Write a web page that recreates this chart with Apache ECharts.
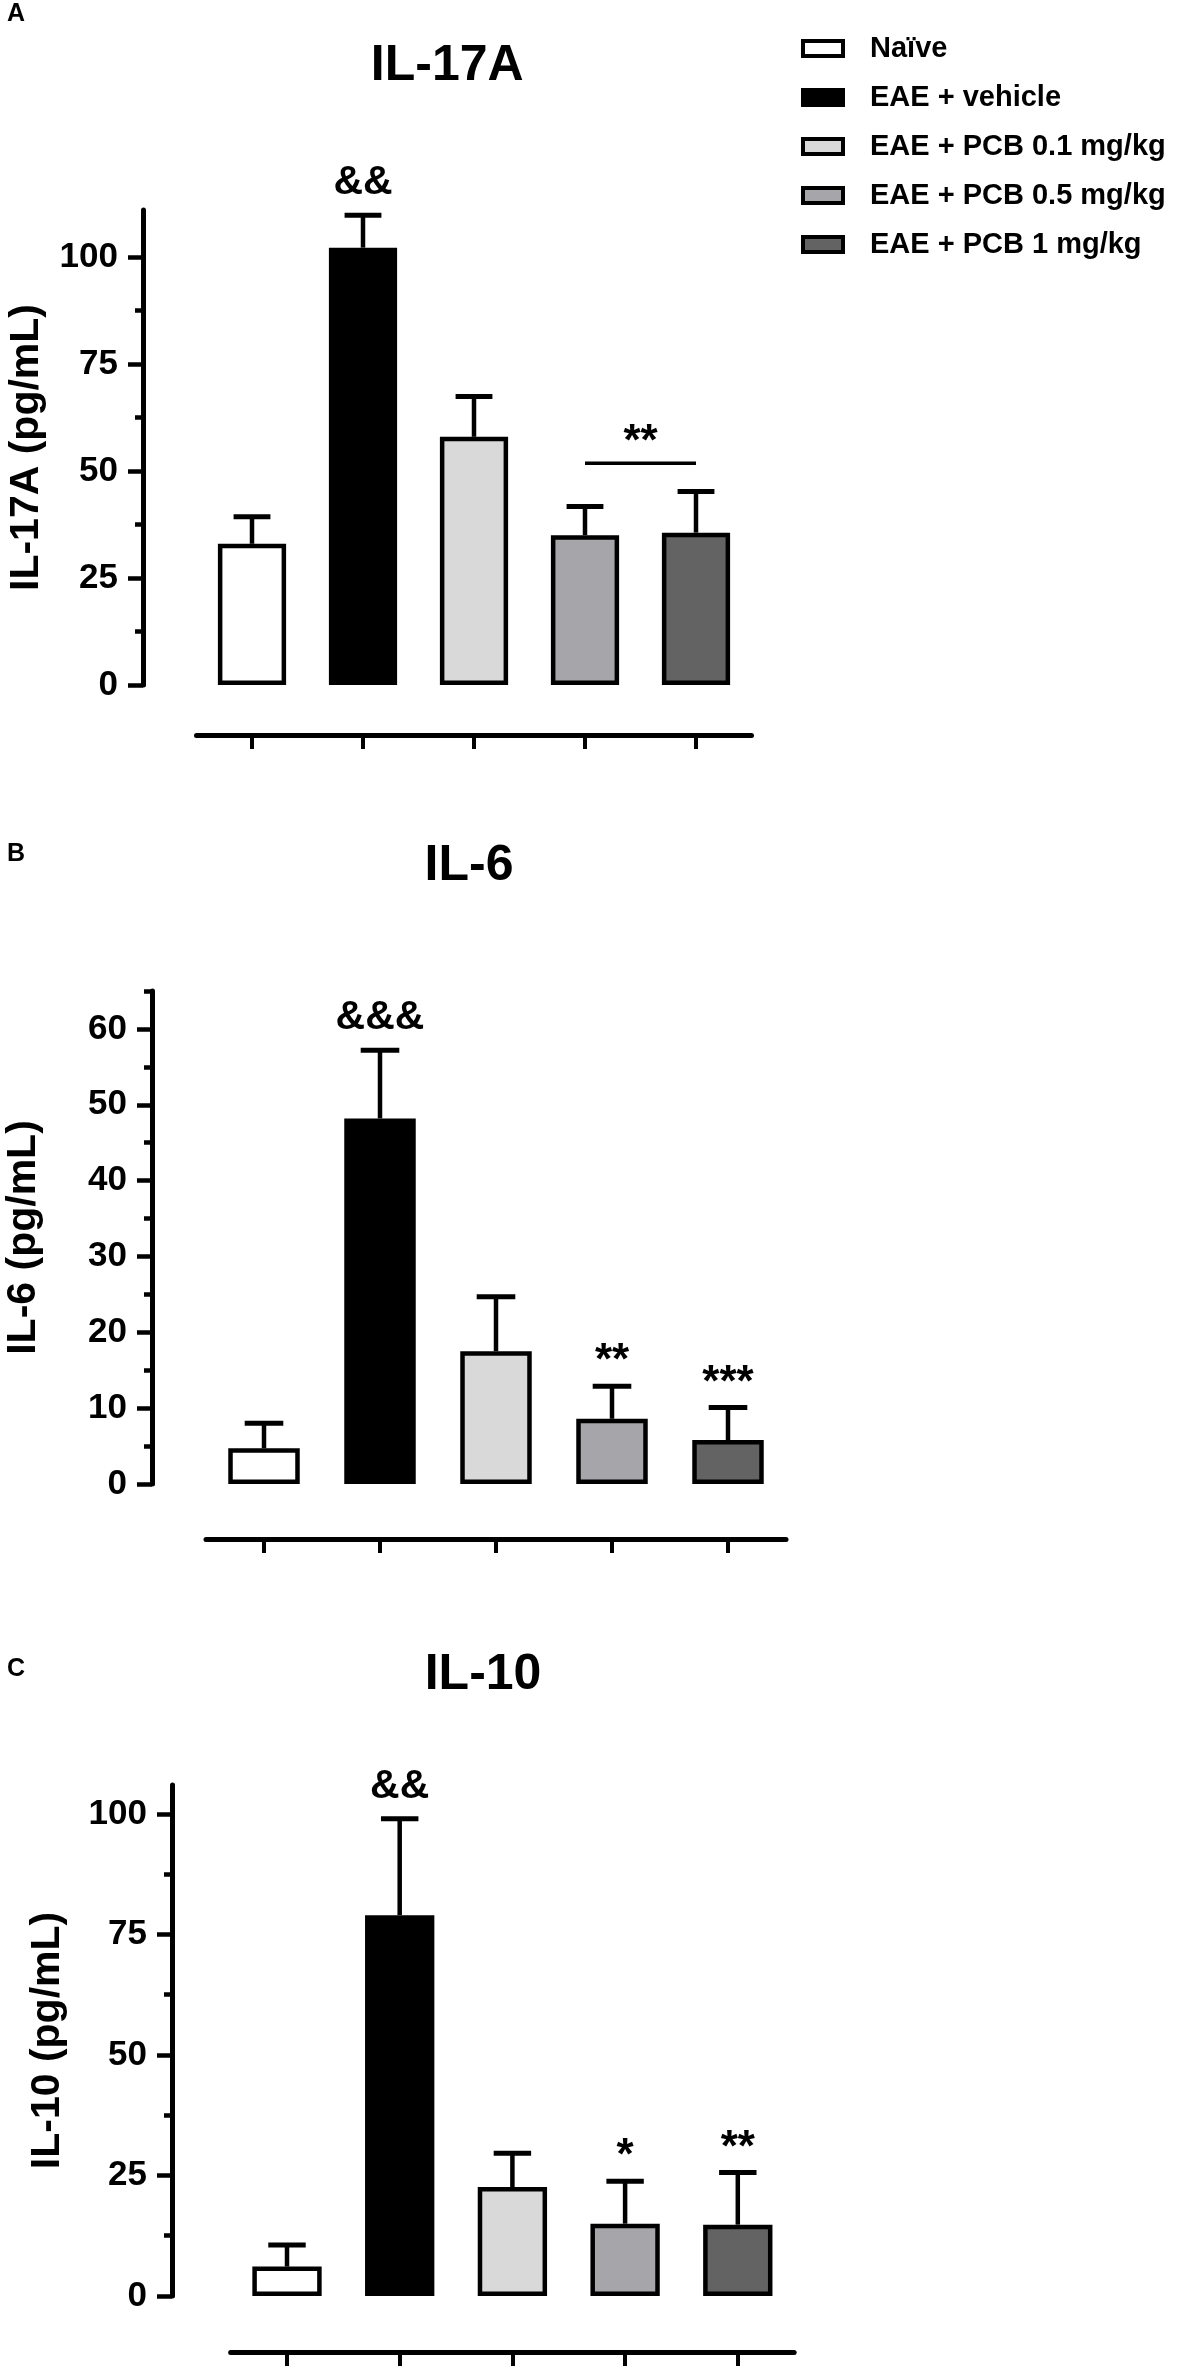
<!DOCTYPE html>
<html><head><meta charset="utf-8">
<script src="https://cdn.jsdelivr.net/npm/echarts@6/dist/echarts.min.js"></script>
<style>html,body{margin:0;padding:0;background:#fff}#c{width:1191px;height:2375px}</style>
</head><body><div id="c"></div>
<script>
// ---------- data ----------
const groups = ['Naïve', 'EAE + vehicle', 'EAE + PCB 0.1 mg/kg', 'EAE + PCB 0.5 mg/kg', 'EAE + PCB 1 mg/kg'];
const groupColors = ['#ffffff', '#000000', '#d9d9d9', '#a5a5aa', '#636363'];

const il17aMean = [33.0, 102.2, 58.0, 35.0, 35.6];
const il17aErr  = [6.3, 7.6, 9.4, 6.7, 9.6];
const il17aSig  = ['', '&&', '', '', ''];
const il17aBracket = [[3, 4, 51.8, '**']];
const il17aTicks = [0, 25, 50, 75, 100];
const il17aMinor = [12.5, 37.5, 62.5, 87.5];

const il6Mean = [4.7, 48.2, 17.5, 8.6, 5.8];
const il6Err  = [3.3, 9.0, 7.2, 4.3, 4.3];
const il6Sig  = ['', '&&&', '', '**', '***'];
const il6Ticks = [0, 10, 20, 30, 40, 50, 60];
const il6Minor = [5, 15, 25, 35, 45, 55, 65];

const il10Mean = [6.1, 79.0, 22.6, 15.0, 14.8];
const il10Err  = [4.5, 20.0, 7.0, 8.8, 10.8];
const il10Sig  = ['', '&&', '', '*', '**'];
const il10Ticks = [0, 25, 50, 75, 100];
const il10Minor = [12.5, 37.5, 62.5, 87.5];

// ---------- layout / style ----------
const FF = "'Liberation Sans', Arial, Helvetica, sans-serif";
const panels = [
  {letter:'A', title:'IL-17A', yname:'IL-17A (pg/mL)', mean:il17aMean, err:il17aErr, sig:il17aSig, bracket:il17aBracket,
   ticks:il17aTicks, minor:il17aMinor, max:111,
   axisX:143, firstC:252, s:111, top:210, zero:685, lineGap:50, nameCx:27, titleTop:41, letterTop:2},
  {letter:'B', title:'IL-6', yname:'IL-6 (pg/mL)', mean:il6Mean, err:il6Err, sig:il6Sig, bracket:[],
   ticks:il6Ticks, minor:il6Minor, max:65,
   axisX:152, firstC:264, s:116, top:991, zero:1484, lineGap:55, nameCx:24, titleTop:841, letterTop:842},
  {letter:'C', title:'IL-10', yname:'IL-10 (pg/mL)', mean:il10Mean, err:il10Err, sig:il10Sig, bracket:[],
   ticks:il10Ticks, minor:il10Minor, max:106,
   axisX:172, firstC:287, s:112.7, top:1785, zero:2296, lineGap:56, nameCx:48, titleTop:1650, letterTop:1657}
];

const grid = [], xAxis = [], yAxis = [], series = [], title = [];
panels.forEach((p, i) => {
  const gl = p.firstC - p.s / 2;
  const gw = 5 * p.s;
  grid.push({left: gl, top: p.top, width: gw, height: p.zero - p.top, containLabel: false});
  const barW = 0.655 * p.s - 4.5;
  xAxis.push({
    type:'category', gridIndex:i, data:groups, position:'bottom', offset:p.lineGap,
    boundaryGap:true,
    axisLine:{show:true, onZero:false, lineStyle:{color:'#000', width:5}},
    axisTick:{show:true, alignWithLabel:true, interval:0, length:14, lineStyle:{color:'#000', width:4}},
    axisLabel:{show:false}, splitLine:{show:false}
  });
  const yOff = gl - p.axisX;
  yAxis.push({
    type:'value', gridIndex:i, min:0, max:p.max, position:'left', offset:yOff,
    axisLine:{show:true, lineStyle:{color:'#000', width:5}},
    axisTick:{show:true, customValues:p.ticks, length:15, lineStyle:{color:'#000', width:4.5}},
    axisLabel:{show:true, customValues:p.ticks, margin:25, color:'#000', fontSize:35, fontWeight:'bold', fontFamily:FF},
    splitLine:{show:false},
    name:p.yname, nameLocation:'middle', nameGap:p.axisX - p.nameCx - 20.5,
    nameTextStyle:{color:'#000', fontSize:41, fontWeight:'bold', fontFamily:FF}
  });
  yAxis.push({
    type:'value', gridIndex:i, min:0, max:p.max, position:'left', offset:yOff,
    axisLine:{show:false},
    axisTick:{show:true, customValues:p.minor, length:8, lineStyle:{color:'#000', width:4.5}},
    axisLabel:{show:false}, splitLine:{show:false}
  });
  // bars
  series.push({
    type:'bar', xAxisIndex:i, yAxisIndex:2*i, barWidth:barW, z:3, silent:true,
    data:p.mean.map((v, j) => ({value:v, itemStyle:{color:groupColors[j], borderColor:'#000', borderWidth:4.5}}))
  });
  // error bars + significance
  series.push({
    type:'custom', xAxisIndex:i, yAxisIndex:2*i, z:2, silent:true,
    data:p.mean.map((v, j) => [j, v, p.err[j]]),
    renderItem:(params, api) => {
      const j = params.dataIndex;
      const x = api.value(0), m = api.value(1), e = api.value(2);
      const a = api.coord([x, m]), b = api.coord([x, m + e]);
      const capHalf = barW * 0.27;
      const children = [
        {type:'line', shape:{x1:a[0], y1:a[1], x2:b[0], y2:b[1]}, style:{stroke:'#000', lineWidth:4.5}},
        {type:'line', shape:{x1:b[0] - capHalf, y1:b[1], x2:b[0] + capHalf, y2:b[1]}, style:{stroke:'#000', lineWidth:5}}
      ];
      const t = p.sig[j];
      if (t) {
        const isAmp = t.indexOf('&') >= 0;
        children.push({type:'text', style:{text:t, x:b[0], y:b[1] - (isAmp ? 12 : 2), align:'center', verticalAlign:'bottom',
          font:'bold ' + (isAmp ? 41 : 44) + 'px ' + FF, fill:'#000'}});
      }
      return {type:'group', children};
    }
  });
  if (p.bracket.length) {
    series.push({
      type:'custom', xAxisIndex:i, yAxisIndex:2*i, z:4, silent:true,
      data:p.bracket.map(d => [d[0], d[1], d[2]]),
      renderItem:(params, api) => {
        const d = p.bracket[params.dataIndex];
        const a = api.coord([api.value(0), api.value(2)]);
        const b = api.coord([api.value(1), api.value(2)]);
        return {type:'group', children:[
          {type:'line', shape:{x1:a[0], y1:a[1], x2:b[0], y2:b[1]}, style:{stroke:'#000', lineWidth:3.5}},
          {type:'text', style:{text:d[3], x:(a[0] + b[0]) / 2, y:a[1] + 2, align:'center', verticalAlign:'bottom',
            font:'bold 44px ' + FF, fill:'#000'}}
        ]};
      }
    });
  }
  title.push({text:p.letter, left:7, top:p.letterTop, padding:0, textStyle:{fontSize:25, fontWeight:'bold', color:'#000', fontFamily:FF}});
  title.push({text:p.title, left:(p.axisX + gl + gw) / 2, top:p.titleTop, padding:0, textAlign:'center',
    textStyle:{fontSize:50, fontWeight:'bold', color:'#000', fontFamily:FF}});
});

// hidden grid for legend entries
grid.push({left:0, top:0, width:1, height:1, show:false});
xAxis.push({type:'category', gridIndex:3, show:false, data:['x']});
yAxis.push({type:'value', gridIndex:3, show:false});
groups.forEach((g, j) => {
  series.push({type:'bar', name:g, xAxisIndex:3, yAxisIndex:yAxis.length - 1, data:[],
    itemStyle:{color:groupColors[j], borderColor:'#000', borderWidth:4}});
});

const option = {
  backgroundColor:'#fff',
  animation:false,
  title,
  legend:{
    data:groups, orient:'vertical', left:801, top:34, itemWidth:40, itemHeight:15, itemGap:20,
    icon:'rect', selectedMode:false, padding:0,
    itemStyle:{borderColor:'#000', borderWidth:4},
    textStyle:{color:'#000', fontSize:29, fontWeight:'bold', fontFamily:FF, padding:[0, 0, 0, 22]}
  },
  grid, xAxis, yAxis, series
};
const chart = echarts.init(document.getElementById('c'), null, {renderer:'canvas'});
chart.setOption(option);
</script>
</body></html>
